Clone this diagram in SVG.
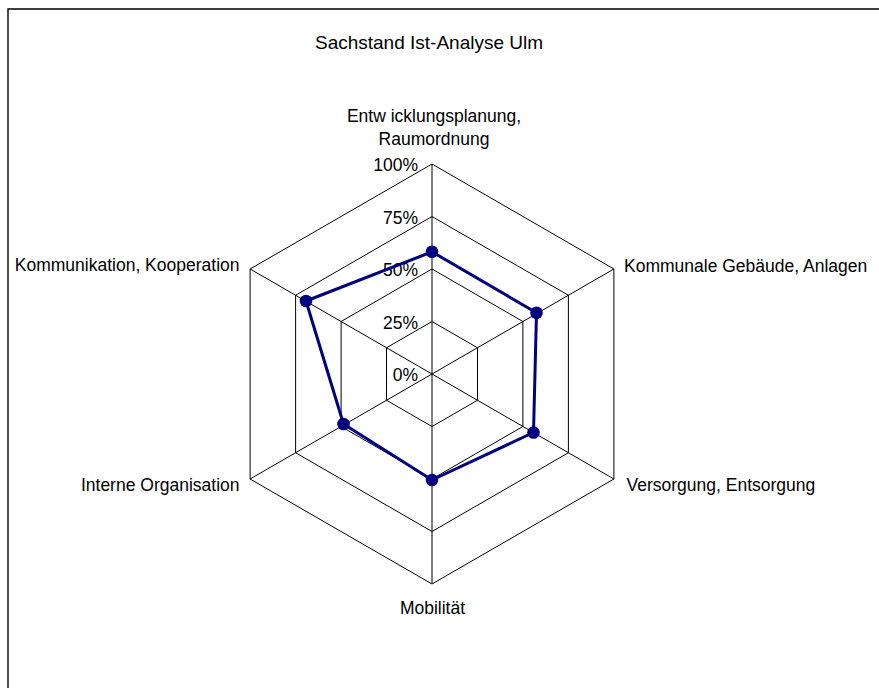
<svg xmlns="http://www.w3.org/2000/svg" width="879" height="688" viewBox="0 0 879 688">
  <style>
    .txt { font-family: "Liberation Sans", Arial, sans-serif; font-size: 17.5px; fill: #000; }
    .title { font-family: "Liberation Sans", Arial, sans-serif; font-size: 19px; fill: #000; }
    .grid { fill: none; stroke: #000; stroke-width: 1; }
    .series { fill: none; stroke: #000080; stroke-width: 3; stroke-linejoin: round; }
    .marker { fill: #000080; }
  </style>
  <rect x="0" y="0" width="879" height="688" fill="#fff"/>
  <path id="frame" d="M8,688 V9 H879" fill="none" stroke="#000" stroke-width="1.4"/>

  <text id="title" class="title" x="429" y="49" text-anchor="middle">Sachstand Ist-Analyse Ulm</text>

  <g id="grid">
    <polygon class="grid" points="432,164 613.9,269 613.9,479 432,584 250.1,479 250.1,269"/>
    <polygon class="grid" points="432,216.5 568.4,295.25 568.4,452.75 432,531.5 295.6,452.75 295.6,295.25"/>
    <polygon class="grid" points="432,269 522.9,321.5 522.9,426.5 432,479 341.1,426.5 341.1,321.5"/>
    <polygon class="grid" points="432,321.5 477.5,347.75 477.5,400.25 432,426.5 386.5,400.25 386.5,347.75"/>
  </g>
  <g id="connectors">
    <line class="grid" x1="432" y1="374" x2="432" y2="164"/>
    <line class="grid" x1="432" y1="374" x2="613.9" y2="269"/>
    <line class="grid" x1="432" y1="374" x2="613.9" y2="479"/>
    <line class="grid" x1="432" y1="374" x2="432" y2="584"/>
    <line class="grid" x1="432" y1="374" x2="250.1" y2="479"/>
    <line class="grid" x1="432" y1="374" x2="250.1" y2="269"/>
  </g>

  <g id="scale">
    <text class="txt" x="418" y="170.5" text-anchor="end">100%</text>
    <text class="txt" x="418" y="223.5" text-anchor="end">75%</text>
    <text class="txt" x="418" y="276" text-anchor="end">50%</text>
    <text class="txt" x="418" y="328.5" text-anchor="end">25%</text>
    <text class="txt" x="418" y="381" text-anchor="end">0%</text>
  </g>

  <g id="series">
    <polygon class="series" points="432,251.8 536.5,312.8 533.5,432.5 432,480 343.5,424 306,301"/>
    <circle class="marker" cx="432" cy="251.8" r="6.3"/>
    <circle class="marker" cx="536.5" cy="312.8" r="6.3"/>
    <circle class="marker" cx="533.5" cy="432.5" r="6.3"/>
    <circle class="marker" cx="432" cy="480" r="6.3"/>
    <circle class="marker" cx="343.5" cy="424" r="6.3"/>
    <circle class="marker" cx="306" cy="301" r="6.3"/>
  </g>

  <g id="label-entwicklung">
    <text class="txt" x="434" y="122" text-anchor="middle">Entw icklungsplanung,</text>
    <text class="txt" x="434" y="145" text-anchor="middle">Raumordnung</text>
  </g>
  <g id="label-gebaeude">
    <text class="txt" x="624" y="271.5">Kommunale Gebäude, Anlagen</text>
  </g>
  <g id="label-versorgung">
    <text class="txt" x="626.5" y="490.5">Versorgung, Entsorgung</text>
  </g>
  <g id="label-mobilitaet">
    <text class="txt" x="432.5" y="614" text-anchor="middle">Mobilität</text>
  </g>
  <g id="label-organisation">
    <text class="txt" x="239.5" y="490.5" text-anchor="end">Interne Organisation</text>
  </g>
  <g id="label-kommunikation">
    <text class="txt" x="239.5" y="271" text-anchor="end">Kommunikation, Kooperation</text>
  </g>
</svg>
